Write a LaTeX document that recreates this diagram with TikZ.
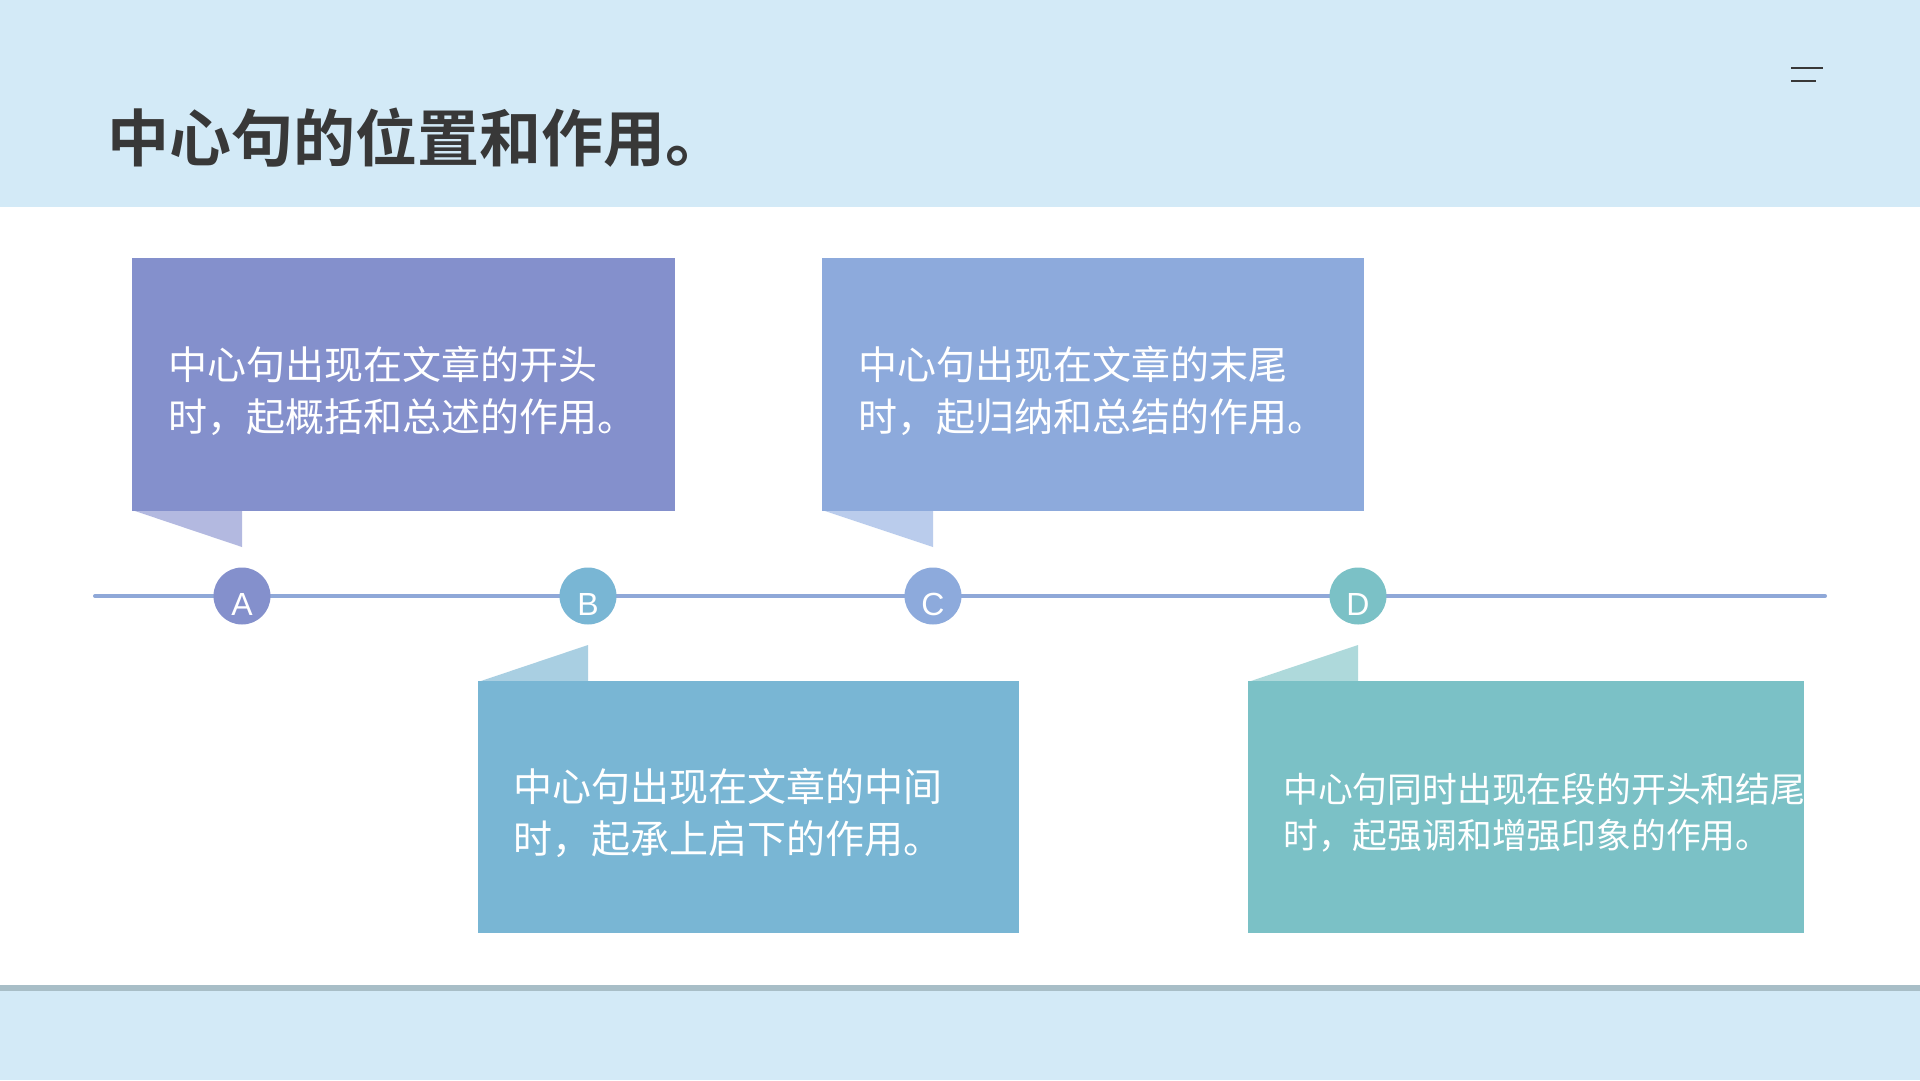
\documentclass[tikz,border=0pt]{standalone}
\usepackage{fontspec}
\setmainfont{Liberation Sans}
\newfontfamily\cjk{Noto Sans CJK SC}
\newfontfamily\cjkbold{Noto Sans CJK SC Bold}
\definecolor{bgblue}{HTML}{D3EAF7}
\definecolor{titlegray}{HTML}{383838}
\definecolor{lineblue}{HTML}{8FA8D8}
\definecolor{colA}{HTML}{8490CC}
\definecolor{colAf}{HTML}{B3B9E0}
\definecolor{colB}{HTML}{79B6D4}
\definecolor{colBf}{HTML}{A9CFE2}
\definecolor{colC}{HTML}{8DAADC}
\definecolor{colCf}{HTML}{BACCEC}
\definecolor{colD}{HTML}{7BC1C6}
\definecolor{colDf}{HTML}{AED9DB}
\definecolor{shadowgray}{HTML}{A8BEC7}
\begin{document}
\begin{tikzpicture}[x=1pt,y=-1pt,
  dot/.style={circle,minimum size=57pt,inner sep=0pt,text height=0pt,text depth=0pt,text=white,font=\fontsize{32}{32}\selectfont},
  body/.style={anchor=west,align=left,text=white,inner sep=0pt},
]
\useasboundingbox (0,0) rectangle (1920,1080);
% background
\fill[bgblue] (0,0) rectangle (1920,1080);
\fill[white] (0,207) rectangle (1920,985);
\fill[shadowgray] (0,985) rectangle (1920,991);
% title
\node[anchor=west,inner sep=0pt,text=titlegray,font=\cjkbold\fontsize{62}{62}\selectfont] (title) at (107,138) {中心句的位置和作用。};
% menu icon
\coordinate (m1a) at (1791,68); \coordinate (m1b) at (1823,68);
\coordinate (m2a) at (1791,81); \coordinate (m2b) at (1816,81);
\draw[titlegray,line width=1.2pt] (m1a) -- (m1b) (m2a) -- (m2b);
% timeline
\coordinate (ls) at (95,596); \coordinate (le) at (1825,596);
\draw[lineblue,line width=4pt,line cap=round] (ls) -- (le);
% boxes
\fill[colAf] (132,510) -- (242,510) -- (242,547) -- cycle;
\fill[colA] (132,258) rectangle (675,511);
\fill[colCf] (822,510) -- (933,510) -- (933,547) -- cycle;
\fill[colC] (822,258) rectangle (1364,511);
\fill[colBf] (478,682) -- (588,682) -- (588,645) -- cycle;
\fill[colB] (478,681) rectangle (1019,933);
\fill[colDf] (1248,682) -- (1358,682) -- (1358,645) -- cycle;
\fill[colD] (1248,681) rectangle (1804,933);
% texts
\node[body,font=\cjk\fontsize{39}{52.5}\selectfont] (tA) at (168,391) {中心句出现在文章的开头\\时，起概括和总述的作用。};
\node[body,font=\cjk\fontsize{39}{52.5}\selectfont] (tC) at (858,391) {中心句出现在文章的末尾\\时，起归纳和总结的作用。};
\node[body,font=\cjk\fontsize{39}{52.5}\selectfont] (tB) at (513,813) {中心句出现在文章的中间\\时，起承上启下的作用。};
\begin{scope}
\clip (1248,681) rectangle (1804,933);
\node[body,font=\cjk\fontsize{34.8}{46}\selectfont] (tD) at (1283,813) {中心句同时出现在段的开头和结尾\\时，起强调和增强印象的作用。};
\end{scope}
% circles
\node[dot,fill=colA] (A) at (242,596) {\raisebox{-19pt}{A}};
\node[dot,fill=colB] (B) at (588,596) {\raisebox{-19pt}{B}};
\node[dot,fill=colC] (C) at (933,596) {\raisebox{-19pt}{C}};
\node[dot,fill=colD] (D) at (1358,596) {\raisebox{-19pt}{D}};
\end{tikzpicture}
\end{document}
